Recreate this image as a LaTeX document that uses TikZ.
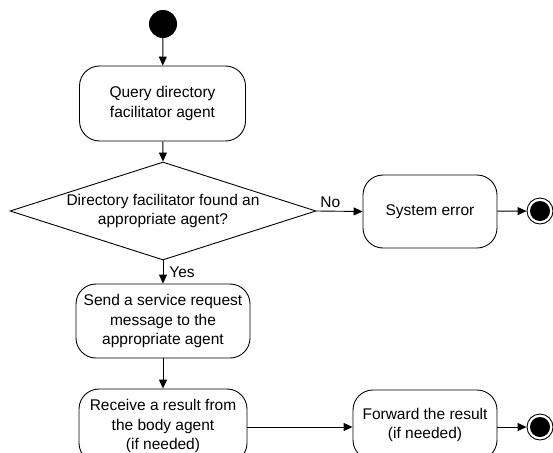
\documentclass[tikz,border=0pt]{standalone}
\usepackage{fontspec}
\setmainfont{Liberation Sans}
\usetikzlibrary{shapes.geometric,arrows.meta}
\begin{document}
\begin{tikzpicture}[x=1pt,y=-1pt,
  every node/.style={font=\fontsize{15.5}{19.5}\selectfont},
  act/.style={draw,line width=0.9pt,rounded corners=20pt,align=center,inner sep=0pt},
  dec/.style={draw,line width=0.9pt,diamond,inner sep=0pt},
  startdot/.style={circle,fill=black,minimum size=28pt,inner sep=0pt},
  enddot/.style={circle,draw,line width=0.9pt,minimum size=26pt,inner sep=0pt,
    path picture={\fill (path picture bounding box.center) circle (10pt);}},
  flow/.style={draw,line width=0.9pt,-{Triangle[length=9pt,width=8pt]}},
  lbl/.style={inner sep=1pt}]
\useasboundingbox (0,0) rectangle (553,452);
\node[startdot] (start) at (163,24) {};
\node[act,minimum width=166pt,minimum height=75pt] (query) at (162.5,103.5) {Query directory\\facilitator agent};
\node[dec,minimum width=306pt,minimum height=98pt] (dec) at (163,211) {};
\node at (dec.center) [align=center] (dectext) {Directory facilitator found an\\appropriate agent?};
\node[act,minimum width=134pt,minimum height=73pt] (syserr) at (430,211.5) {System error};
\node[enddot] (end1) at (540,211) {};
\node[act,minimum width=174pt,minimum height=74pt] (send) at (163,321) {Send a service request\\message to the\\appropriate agent};
\node[act,minimum width=168pt,minimum height=74pt] (recv) at (163,426) {Receive a result from\\the body agent\\(if needed)};
\node[act,minimum width=144pt,minimum height=70pt] (fwd) at (425,425) {Forward the result\\(if needed)};
\node[enddot] (end2) at (540,427) {};
\draw[flow] (start) -- (query);
\draw[flow] (query) -- (dec.north);
\draw[flow] (dec.east) -- node[lbl,above,pos=0.3,yshift=2pt] {No} (syserr.west);
\draw[flow] (syserr) -- (end1);
\draw[flow] (dec.south) -- node[lbl,right,pos=0.5,xshift=5pt] {Yes} (send.north);
\draw[flow] (send) -- (recv);
\draw[flow] (recv.east |- 0,427) -- (fwd.west |- 0,427);
\draw[flow] (fwd.east |- 0,427) -- (end2);
\end{tikzpicture}
\end{document}
